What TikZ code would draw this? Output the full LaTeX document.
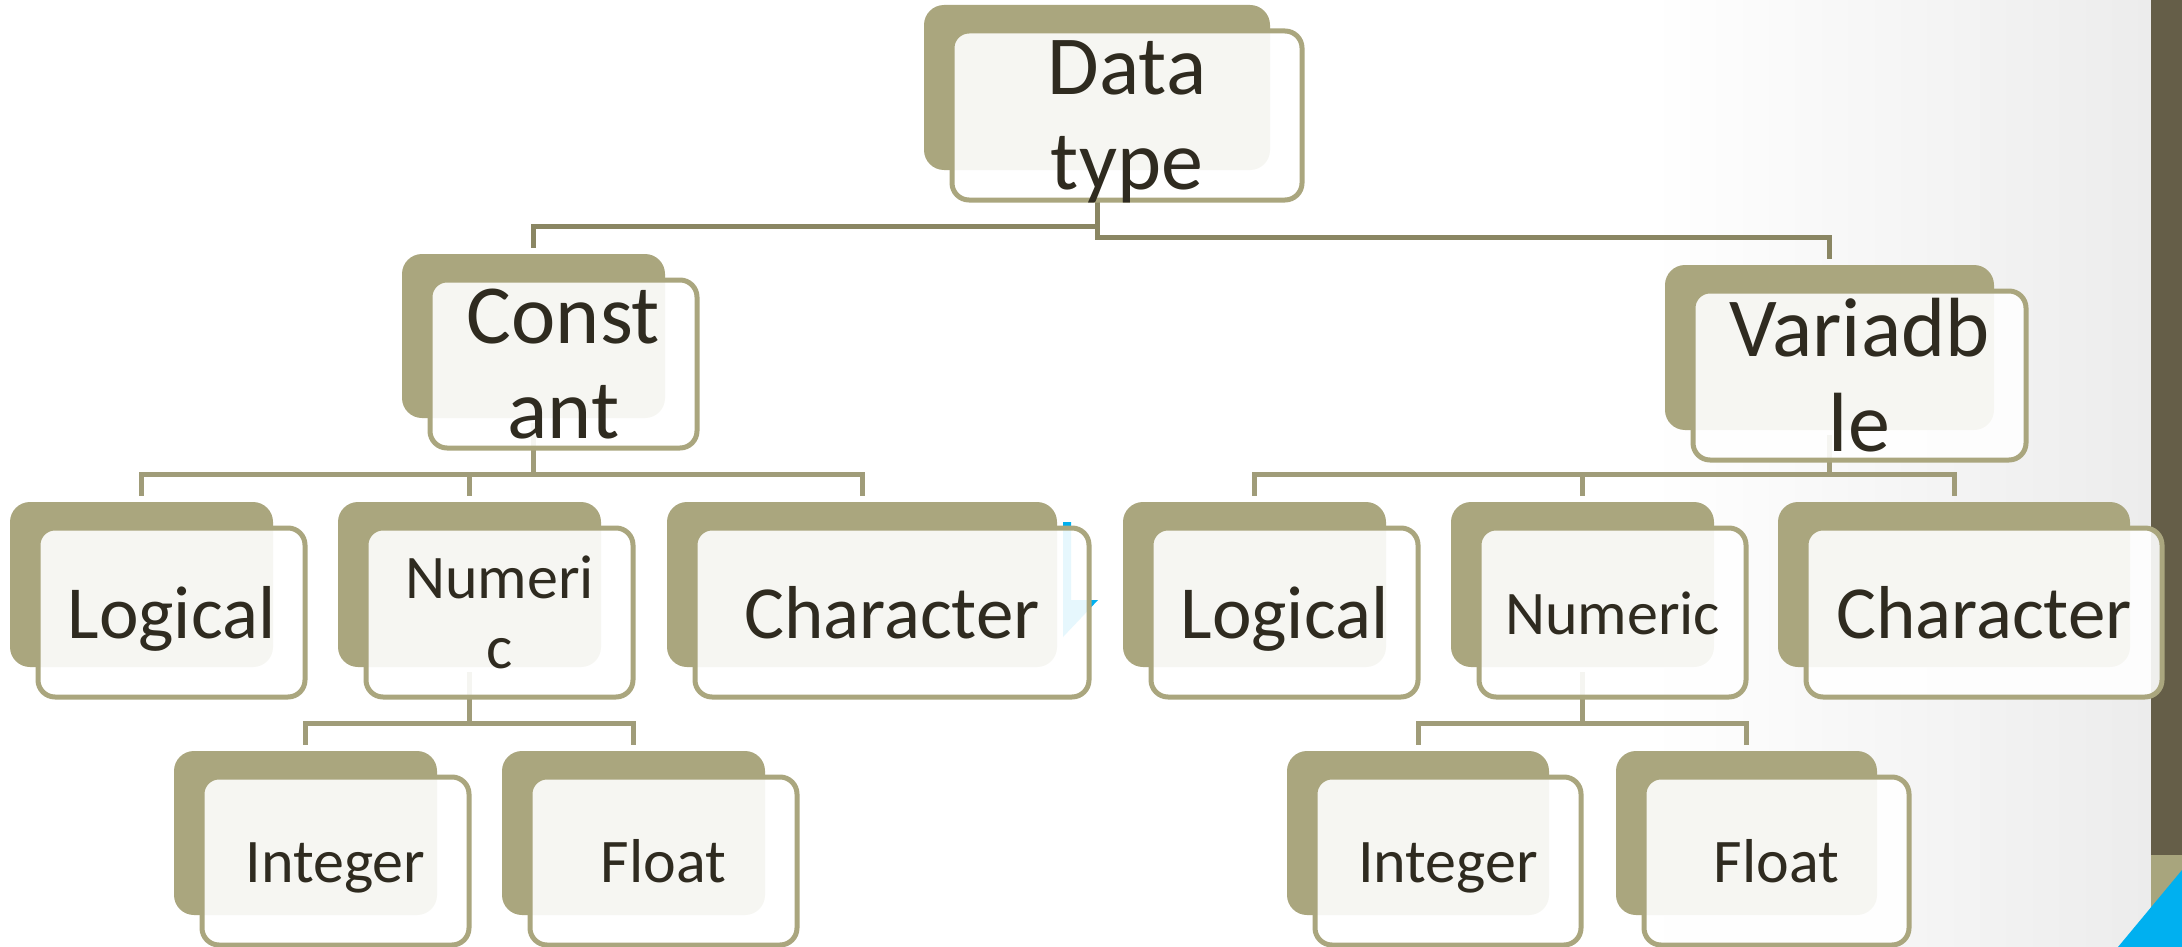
\documentclass[tikz,border=0pt]{standalone}
\usepackage{fontspec}
\setmainfont{Carlito}

\definecolor{tanback}{RGB}{170,166,126}
\definecolor{tanline}{RGB}{160,156,121}
\definecolor{tanlinedark}{RGB}{138,134,99}
\definecolor{ink}{RGB}{47,43,32}
\definecolor{bggray}{RGB}{236,236,236}
\definecolor{bardark}{RGB}{101,94,72}
\definecolor{barlight}{RGB}{168,165,125}
\definecolor{skyblue}{RGB}{0,176,240}

% back tile: name, left, top, right, bottom
\newcommand{\backtile}[5]{%
  \node[backbox, minimum width={#4-#2}, minimum height={#5-#3}]
    (#1-b) at ({(#2+#4)/2},{(#3+#5)/2}) {};}
% front tile: name, left, top, right, bottom (of its back tile), text style, text
\newcommand{\fronttile}[7]{%
  \node[frontbox, minimum width={#4-#2+4}, minimum height={#5-#3+4}, #6]
    (#1) at ({(#2+#4)/2+30},{(#3+#5)/2+28}) {#7};}

\newcommand{\bigfont}{\fontsize{84}{95}\selectfont}
\newcommand{\midfont}{\fontsize{75}{84}\selectfont}
\newcommand{\smallfont}{\fontsize{62}{70}\selectfont}

\begin{document}
\begin{tikzpicture}[x=1pt, y=-1pt,
  backbox/.style={rectangle, rounded corners=20pt, fill=tanback,
    inner sep=0pt, outer sep=0pt},
  frontbox/.style={rectangle, rounded corners=17pt, draw=tanback,
    line width=5pt, fill=white, fill opacity=0.9, text opacity=1,
    text=ink, align=center, inner sep=0pt, outer sep=0pt},
  twoline/.style={font=\bigfont},
  numtwo/.style={font=\smallfont},
  midone/.style={font=\midfont, text height=52pt, text depth=0pt},
  smallone/.style={font=\smallfont, text height=43pt, text depth=0pt},
  conn/.style={draw=tanline, line width=5pt},
  topconn/.style={conn, draw=tanlinedark}]

\useasboundingbox (0,0) rectangle (2182,947);
\clip (0,0) rectangle (2182,947);

% slide background
\fill[white] (0,0) rectangle (2182,947);
\shade[left color=white, right color=bggray] (1650,0) rectangle (2151,947);
\fill[bardark] (2151,0) rectangle (2182,855);
\fill[barlight] (2151,855) rectangle (2182,947);
\fill[skyblue] (2118,947) -- (2182,870) -- (2182,947) -- cycle;
\fill[skyblue] (1063,522) -- (1071,522) -- (1071,600) -- (1098,600)
  -- (1063,637) -- cycle;

% back tiles
\backtile{dt}{924}{5}{1270}{170}
\backtile{cst}{402}{254}{665}{418}
\backtile{var}{1665}{265}{1994}{430}
\backtile{ll}{10}{502}{273}{667}
\backtile{nl}{338}{502}{601}{667}
\backtile{cl}{667}{502}{1057}{667}
\backtile{lr}{1123}{502}{1386}{667}
\backtile{nr}{1451}{502}{1714}{667}
\backtile{cr}{1778}{502}{2130}{667}
\backtile{il}{174}{751}{437}{915}
\backtile{fl}{502}{751}{765}{915}
\backtile{ir}{1287}{751}{1549}{915}
\backtile{fr}{1616}{751}{1877}{915}

% connectors
\draw[topconn] ([yshift=-5pt]dt-b.south) -- (dt-b.south |- 0,226)
  -| ([yshift=6pt]cst-b.north);
\draw[topconn] ([yshift=-5pt]dt-b.south) -- (dt-b.south |- 0,237)
  -| ([yshift=6pt]var-b.north);
\foreach \c in {ll,nl,cl}
  \draw[conn] ([yshift=-5pt]cst-b.south) -- (cst-b.south |- 0,474)
    -| ([yshift=6pt]\c-b.north);
\foreach \c in {lr,nr,cr}
  \draw[conn] ([yshift=-5pt]var-b.south) -- (var-b.south |- 0,474)
    -| ([yshift=6pt]\c-b.north);
\foreach \c in {il,fl}
  \draw[conn] ([yshift=-5pt]nl-b.south) -- (nl-b.south |- 0,723)
    -| ([yshift=6pt]\c-b.north);
\foreach \c in {ir,fr}
  \draw[conn] ([yshift=-5pt]nr-b.south) -- (nr-b.south |- 0,723)
    -| ([yshift=6pt]\c-b.north);

% front tiles with labels
\fronttile{dt}{924}{5}{1270}{170}{twoline}{Data\\\smash{type}}
\fronttile{cst}{402}{254}{665}{418}{twoline}{Const\\ant}
\fronttile{var}{1665}{265}{1994}{430}{twoline}{Variadb\\le}
\fronttile{ll}{10}{502}{273}{667}{midone}{Logical}
\fronttile{nl}{338}{502}{601}{667}{numtwo}{Numeri\\c}
\fronttile{cl}{667}{502}{1057}{667}{midone}{Character}
\fronttile{lr}{1123}{502}{1386}{667}{midone}{Logical}
\fronttile{nr}{1451}{502}{1714}{667}{smallone}{Numeric}
\fronttile{cr}{1778}{502}{2130}{667}{midone}{Character}
\fronttile{il}{174}{751}{437}{915}{smallone}{Integer}
\fronttile{fl}{502}{751}{765}{915}{smallone}{Float}
\fronttile{ir}{1287}{751}{1549}{915}{smallone}{Integer}
\fronttile{fr}{1616}{751}{1877}{915}{smallone}{Float}
\end{tikzpicture}
\end{document}
